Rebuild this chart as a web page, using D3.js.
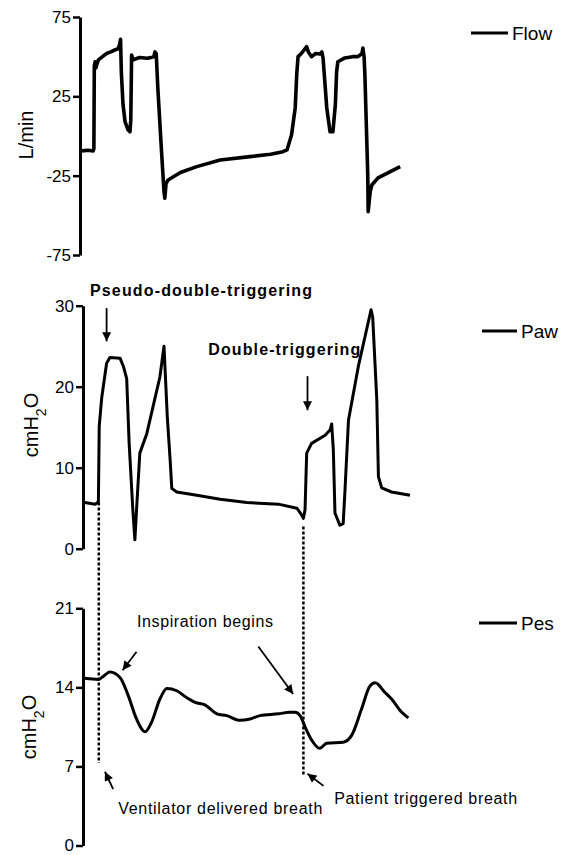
<!DOCTYPE html>
<html>
<head>
<meta charset="utf-8">
<script src="https://cdn.jsdelivr.net/npm/d3@7/dist/d3.min.js"></script>
<style>
  body { margin: 0; background: #fff; }
  svg text { font-family: "Liberation Sans", Arial, sans-serif; fill: #000; }
</style>
</head>
<body>
<div id="canvas"></div>
<script>
// time (s) / value pairs
const flowData = [
  [0, -9.4], [0.15, -9.0], [0.27, -9.4], [0.29, -8], [0.30, 44], [0.32, 46.8], [0.34, 43], [0.36, 45], [0.40, 48],
  [0.5, 50], [0.6, 52], [0.7, 53], [0.8, 54.2], [0.88, 55], [0.92, 58], [0.94, 61], [0.96, 40],
  [1.0, 20], [1.05, 9], [1.12, 4], [1.17, 2.7], [1.19, 10], [1.21, 51], [1.25, 48], [1.4, 49.5],
  [1.6, 49], [1.75, 50], [1.78, 53], [1.81, 52], [1.85, 30], [1.94, -9.9], [2.0, -35], [2.02, -39.2],
  [2.05, -30], [2.10, -27.7], [2.4, -23], [2.8, -19.3], [3.37, -15.1], [4.1, -13], [4.6, -11.5],
  [4.9, -9.9], [5.0, -8.8], [5.11, 0.6], [5.2, 17.7], [5.24, 40], [5.27, 50], [5.35, 52], [5.48, 56.3],
  [5.52, 53], [5.60, 50], [5.7, 52], [5.80, 51.7], [5.85, 53], [5.88, 49], [5.97, 17.7], [6.05, 2.7],
  [6.12, 2.7], [6.18, 20], [6.21, 40.5], [6.24, 46.8], [6.41, 49.2], [6.6, 50], [6.73, 50], [6.83, 52],
  [6.85, 55.5], [6.88, 50], [6.90, 38.5], [6.97, -24.6], [6.98, -47.7], [7.03, -35], [7.07, -30.9],
  [7.22, -26.4], [7.46, -23.3], [7.76, -19.3]
];

const pawData = [
  [0.07, 5.7], [0.32, 5.5], [0.38, 5.7], [0.40, 5.8], [0.42, 15.1], [0.48, 18.6], [0.60, 22.9],
  [0.68, 23.6], [0.93, 23.5], [1.01, 22.5], [1.09, 21.0], [1.15, 13.0], [1.24, 4.8], [1.29, 1.1],
  [1.33, 4.8], [1.41, 11.8], [1.58, 14.2], [1.90, 21.2], [2.0, 25.0], [2.08, 16.3], [2.15, 10.95],
  [2.19, 7.45], [2.31, 7.0], [2.80, 6.6], [3.37, 6.1], [4.02, 5.7], [4.79, 5.5], [5.24, 5.0],
  [5.34, 4.3], [5.40, 3.75], [5.44, 4.8], [5.48, 11.8], [5.60, 13.0], [5.93, 14.0], [6.05, 14.65],
  [6.09, 15.4], [6.13, 12.2], [6.17, 4.4], [6.29, 2.9], [6.37, 3.1], [6.41, 6.8], [6.50, 15.9],
  [6.74, 22.5], [7.05, 29.5], [7.09, 28.6], [7.19, 18.4], [7.23, 8.9], [7.31, 7.5], [7.55, 7.0],
  [8.0, 6.6]
];

const pesData = [
  [0.07, 14.8], [0.40, 14.7], [0.56, 15.1], [0.68, 15.35], [0.93, 14.86], [1.13, 13.25], [1.33, 11.2],
  [1.54, 10.07], [1.70, 10.94], [1.90, 12.97], [2.07, 13.9], [2.31, 13.7], [2.55, 13.1], [2.76, 12.68],
  [3.0, 12.45], [3.29, 11.66], [3.53, 11.5], [3.85, 11.08], [4.10, 11.2], [4.34, 11.5], [4.79, 11.66],
  [5.07, 11.8], [5.20, 11.8], [5.32, 11.5], [5.44, 10.5], [5.60, 9.34], [5.80, 8.6], [5.97, 9.05],
  [6.37, 9.14], [6.58, 9.77], [6.82, 12.1], [7.02, 14.1], [7.15, 14.4], [7.39, 13.55], [7.55, 12.97],
  [7.80, 11.8], [7.96, 11.3]
];

const flowTicks = [-75, -25, 25, 75];
const pawTicks = [0, 10, 20, 30];
const pesTicks = [0, 7, 14, 21];

// trigger markers: time, paw value at top, pes value at bottom
const triggers = [[0.41, 5.7, 7.3], [5.40, 2.75, 6.15]];

const w = 569, h = 855;

const svg = d3.select("#canvas").append("svg")
  .attr("width", w).attr("height", h)
  .style("background", "#fff");

const defs = svg.append("defs");
defs.append("marker")
  .attr("id", "head")
  .attr("viewBox", "0 0 10 10")
  .attr("refX", 10).attr("refY", 5)
  .attr("markerWidth", 10).attr("markerHeight", 9)
  .attr("markerUnits", "userSpaceOnUse")
  .attr("orient", "auto")
  .append("path").attr("d", "M0,0 L10,5 L0,10 Z").attr("fill", "#000");

const x = d3.scaleLinear().domain([0, 8]).range([82, 410]);
const yFlow = d3.scaleLinear().domain([-75, 75]).range([255, 17]);
const yPaw = d3.scaleLinear().domain([0, 30]).range([548.7, 305.7]);
const yPes = d3.scaleLinear().domain([0, 21]).range([845.5, 608.3]);

function drawAxis(scale, ticks, xPos) {
  const g = svg.append("g")
    .attr("transform", "translate(" + xPos + ",0)")
    .call(d3.axisLeft(scale).tickValues(ticks).tickSize(7).tickSizeOuter(0).tickPadding(2)
      .tickFormat(d => String(d)));
  g.select(".domain").attr("stroke", "#000").attr("stroke-width", 3);
  g.selectAll(".tick line").attr("stroke", "#000").attr("stroke-width", 2.5);
  g.selectAll(".tick text")
    .style("font-family", "'Liberation Sans', Arial, sans-serif")
    .style("font-size", "17px")
    .attr("fill", "#000");
  return g;
}

drawAxis(yFlow, flowTicks, 80);
drawAxis(yPaw, pawTicks, 83);
drawAxis(yPes, pesTicks, 83);

function drawTrace(data, y, curve, sw) {
  const line = d3.line()
    .x(d => x(d[0]))
    .y(d => y(d[1]))
    .curve(curve);
  svg.append("path")
    .datum(data)
    .attr("d", line)
    .attr("fill", "none")
    .attr("stroke", "#000")
    .attr("stroke-width", sw)
    .attr("stroke-linejoin", "round");
}

drawTrace(flowData, yFlow, d3.curveLinear, 3.6);
drawTrace(pawData, yPaw, d3.curveLinear, 3);
drawTrace(pesData, yPes, d3.curveMonotoneX, 3);

// dotted trigger lines
svg.selectAll(".trigger")
  .data(triggers)
  .enter().append("line")
  .attr("class", "trigger")
  .attr("x1", d => x(d[0])).attr("x2", d => x(d[0]))
  .attr("y1", d => yPaw(d[1])).attr("y2", d => yPes(d[2]))
  .attr("stroke", "#000")
  .attr("stroke-width", 2.5)
  .attr("stroke-dasharray", "3,2");

// y labels
function yLabel(xPos, yPos, parts) {
  const t = svg.append("text")
    .attr("transform", "translate(" + xPos + "," + yPos + ") rotate(-90)")
    .attr("text-anchor", "middle")
    .style("font-size", "20px");
  parts.forEach(p => {
    const s = t.append("tspan").text(p.text);
    if (p.sub) s.attr("baseline-shift", "sub").style("font-size", "14px");
  });
}
yLabel(33, 135, [{ text: "L/min" }]);
yLabel(38, 425, [{ text: "cmH" }, { text: "2", sub: true }, { text: "O" }]);
yLabel(36, 727, [{ text: "cmH" }, { text: "2", sub: true }, { text: "O" }]);

// legends
const legends = [
  { name: "Flow", x1: 471, x2: 508, y: 33 },
  { name: "Paw", x1: 482, x2: 517, y: 331 },
  { name: "Pes", x1: 479, x2: 517, y: 623 }
];
legends.forEach(l => {
  svg.append("line")
    .attr("x1", l.x1).attr("x2", l.x2).attr("y1", l.y).attr("y2", l.y)
    .attr("stroke", "#000").attr("stroke-width", 3);
  svg.append("text")
    .attr("x", l.x2 + 4).attr("y", l.y + 7)
    .style("font-size", "19px")
    .text(l.name);
});

// annotations (positioned in data units)
const pawNotes = [
  { text: "Pseudo-double-triggering", t: 0.195, v: 31.2, len: 222 },
  { text: "Double-triggering", t: 3.08, v: 23.9, len: 152 }
];
pawNotes.forEach(n => {
  svg.append("text")
    .attr("x", x(n.t)).attr("y", yPaw(n.v))
    .attr("textLength", n.len).attr("lengthAdjust", "spacing")
    .style("font-size", "16px").style("font-weight", "bold")
    .text(n.text);
});
const pawArrows = [[0.60, 29.7, 0.60, 25.6], [5.50, 21.3, 5.50, 17.1]];
pawArrows.forEach(a => {
  svg.append("line")
    .attr("x1", x(a[0])).attr("y1", yPaw(a[1]))
    .attr("x2", x(a[2])).attr("y2", yPaw(a[3]))
    .attr("stroke", "#000").attr("stroke-width", 1.8)
    .attr("marker-end", "url(#head)");
});

const pesNotes = [
  { text: "Inspiration begins", t: 1.34, v: 19.35, len: 136 },
  { text: "Ventilator delivered breath", t: 0.885, v: 2.81, len: 204 },
  { text: "Patient triggered breath", t: 6.15, v: 3.68, len: 183 }
];
pesNotes.forEach(n => {
  svg.append("text")
    .attr("x", x(n.t)).attr("y", yPes(n.v))
    .attr("textLength", n.len).attr("lengthAdjust", "spacing")
    .style("font-size", "16px")
    .text(n.text);
});
const pesArrows = [
  [1.33, 17.15, 0.99, 15.52],
  [4.30, 17.61, 5.15, 13.41],
  [0.76, 4.99, 0.56, 6.53],
  [5.89, 5.28, 5.50, 6.36]
];
pesArrows.forEach(a => {
  svg.append("line")
    .attr("x1", x(a[0])).attr("y1", yPes(a[1]))
    .attr("x2", x(a[2])).attr("y2", yPes(a[3]))
    .attr("stroke", "#000").attr("stroke-width", 1.8)
    .attr("marker-end", "url(#head)");
});
</script>
</body>
</html>
